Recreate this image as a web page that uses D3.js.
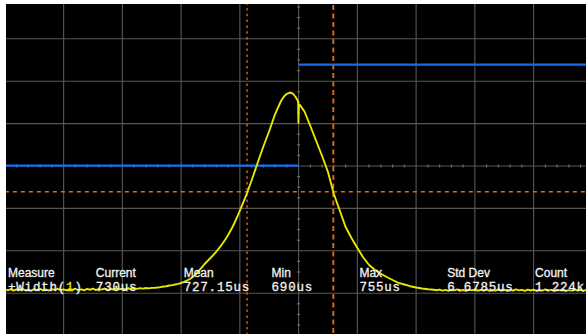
<!DOCTYPE html>
<html>
<head>
<meta charset="utf-8">
<script src="https://cdn.jsdelivr.net/npm/d3@7/dist/d3.min.js"></script>
<style>
  html, body { margin: 0; padding: 0; background: #fff; overflow: hidden; }
  svg { display: block; }
</style>
</head>
<body>
<script>
// Graticule: 10 horizontal x 8 vertical divisions, centred on 0
const xDivisions = d3.range(-5, 6);
const yDivisions = d3.range(-4, 5);

// Channel 1 (yellow) trace, [horizontal div, vertical div]
const ch1Trace = [
  [-4.98,-2.915],[-4.95,-2.932],[-4.9,-2.906],[-4.85,-2.938],[-4.8,-2.911],[-4.75,-2.929],
  [-4.7,-2.897],[-4.65,-2.934],[-4.6,-2.915],[-4.55,-2.941],[-4.5,-2.905],[-4.45,-2.926],
  [-4.4,-2.899],[-4.35,-2.932],[-4.3,-2.912],[-4.25,-2.937],[-4.2,-2.903],[-4.15,-2.921],
  [-4.1,-2.896],[-4.05,-2.929],[-4.0,-2.908],[-3.95,-2.933],[-3.9,-2.901],[-3.85,-2.924],
  [-3.8,-2.895],[-3.75,-2.927],[-3.7,-2.910],[-3.65,-2.931],[-3.6,-2.898],[-3.55,-2.919],
  [-3.5,-2.894],[-3.45,-2.925],[-3.4,-2.903],[-3.35,-2.916],[-3.3,-2.889],[-3.25,-2.921],
  [-3.2,-2.900],[-3.15,-2.913],[-3.1,-2.886],[-3.05,-2.909],[-3.0,-2.895],[-2.95,-2.912],
  [-2.9,-2.884],[-2.85,-2.903],[-2.8,-2.887],[-2.75,-2.899],[-2.7,-2.880],[-2.65,-2.893],
  [-2.6,-2.878],[-2.55,-2.886],[-2.5,-2.874],[-2.45,-2.871],[-2.4,-2.866],[-2.35,-2.858],
  [-2.3,-2.842],[-2.25,-2.835],[-2.2,-2.818],[-2.15,-2.810],[-2.1,-2.795],[-2.05,-2.780],
  [-2.0,-2.759],[-1.95,-2.735],[-1.9,-2.700],[-1.85,-2.665],[-1.8,-2.618],[-1.75,-2.555],
  [-1.7,-2.476],[-1.65,-2.395],[-1.6,-2.311],[-1.55,-2.240],[-1.5,-2.170],[-1.45,-2.095],
  [-1.4,-2.017],[-1.35,-1.930],[-1.3,-1.840],[-1.25,-1.740],[-1.2,-1.627],[-1.15,-1.505],
  [-1.1,-1.368],[-1.05,-1.215],[-1.0,-1.050],[-0.9,-0.719],[-0.8,-0.342],[-0.7,0.064],
  [-0.6,0.460],[-0.5,0.825],[-0.4,1.226],[-0.3,1.533],[-0.25,1.640],[-0.2,1.703],
  [-0.15,1.733],[-0.1,1.710],[-0.05,1.627],[-0.008,1.521],[-0.003,1.014],[0.005,1.450],
  [0.024,1.439],[0.1,1.285],[0.2,0.943],[0.3,0.590],[0.4,0.236],[0.5,-0.142],
  [0.6,-0.660],[0.7,-1.050],[0.8,-1.439],[0.9,-1.698],[1.0,-1.934],[1.1,-2.158],
  [1.2,-2.335],[1.3,-2.453],[1.4,-2.542],[1.5,-2.618],[1.6,-2.689],[1.7,-2.755],
  [1.8,-2.795],[1.9,-2.835],[2.0,-2.866],[2.1,-2.889],[2.2,-2.908],[2.3,-2.920],
  [2.35,-2.931],[2.4,-2.914],[2.45,-2.938],[2.5,-2.921],[2.55,-2.944],[2.6,-2.917],
  [2.65,-2.935],[2.7,-2.909],[2.75,-2.940],[2.8,-2.925],[2.85,-2.947],[2.9,-2.916],
  [2.95,-2.933],[3.0,-2.912],[3.05,-2.942],[3.1,-2.922],[3.15,-2.937],[3.2,-2.910],
  [3.25,-2.945],[3.3,-2.926],[3.35,-2.939],[3.4,-2.913],[3.45,-2.936],[3.5,-2.918],
  [3.55,-2.948],[3.6,-2.924],[3.65,-2.941],[3.7,-2.911],[3.75,-2.934],[3.8,-2.920],
  [3.85,-2.946],[3.9,-2.917],[3.95,-2.936],[4.0,-2.914],[4.05,-2.943],[4.1,-2.923],
  [4.15,-2.938],[4.2,-2.909],[4.25,-2.940],[4.3,-2.921],[4.35,-2.947],[4.4,-2.918],
  [4.45,-2.933],[4.5,-2.912],[4.55,-2.944],[4.6,-2.927],[4.65,-2.939],[4.7,-2.915],
  [4.75,-2.937],[4.8,-2.922],[4.85,-2.948],[4.9,-2.919],[4.95,-2.934],[5.0,-2.921]
];

// Blue trace: two flat levels meeting at the trigger point
const blueStart = [-5, 0];
const blueEnd   = [0, 5];
const blueLevel = [0.008, 2.39];

// Cursor positions (divisions)
const cursorX = [-0.878, 0.591];
const cursorY = [-0.606];

// Measurement readout
const measureLabels = ["Measure", "Current", "Mean", "Min", "Max", "Std Dev", "Count"];
const measureValues = ["+Width(1)", "730us", "727.15us", "690us", "755us", "6.6785us", "1.224k"];

const W = 586, H = 334;
const svg = d3.select("body").append("svg").attr("width", W).attr("height", H);

svg.append("rect").attr("width", W).attr("height", H).attr("fill", "#fff");

const x = d3.scaleLinear().domain([-5, 5]).range([4.85, 592.35]);
const y = d3.scaleLinear().domain([-4, 4]).range([335.6, -3.6]);

const defs = svg.append("defs");
defs.append("clipPath").attr("id", "screen")
  .append("rect").attr("x", 6).attr("y", 4).attr("width", W - 6).attr("height", H - 4);
const soft = defs.append("filter").attr("id", "soft")
  .attr("x", "-5%").attr("y", "-5%").attr("width", "110%").attr("height", "110%");
soft.append("feGaussianBlur").attr("stdDeviation", 0.35);

const screen = svg.append("g").attr("clip-path", "url(#screen)");
screen.append("rect").attr("x", 6).attr("y", 4).attr("width", W - 6).attr("height", H - 4)
  .attr("fill", "#000");

// Grid
const grid = screen.append("g").attr("filter", "url(#soft)");
grid.selectAll("line.gv").data(xDivisions).join("line")
  .attr("class", "gv")
  .attr("x1", d => x(d)).attr("x2", d => x(d))
  .attr("y1", y(4)).attr("y2", y(-4))
  .attr("stroke", "#575757").attr("stroke-width", 1.1);
grid.selectAll("line.gh").data(yDivisions).join("line")
  .attr("class", "gh")
  .attr("y1", d => y(d)).attr("y2", d => y(d))
  .attr("x1", x(-5)).attr("x2", x(5))
  .attr("stroke", "#575757").attr("stroke-width", 1.1);

// Minor ticks on the centre axes
const vTicks = d3.range(-4, 4.01, 0.25).filter(v => Math.abs(v % 1) > 1e-6);
const hTicks = d3.range(-5, 5.01, 0.2).filter(v => Math.abs(Math.round(v) - v) > 1e-6);
grid.selectAll("line.tv").data(vTicks).join("line")
  .attr("class", "tv")
  .attr("x1", x(0) - 1.5).attr("x2", x(0) + 1.5)
  .attr("y1", d => y(d)).attr("y2", d => y(d))
  .attr("stroke", "#6a6a6a").attr("stroke-width", 1.2);
grid.selectAll("line.th").data(hTicks).join("line")
  .attr("class", "th")
  .attr("x1", d => x(d)).attr("x2", d => x(d))
  .attr("y1", y(0) - 1.5).attr("y2", y(0) + 1.5)
  .attr("stroke", "#6a6a6a").attr("stroke-width", 1.2);

// Cursors
const cursors = screen.append("g");
cursors.selectAll("line.cx").data(cursorX).join("line")
  .attr("class", "cx")
  .attr("x1", d => x(d)).attr("x2", d => x(d))
  .attr("y1", y(4)).attr("y2", y(-4))
  .attr("stroke", "#de6a14")
  .attr("stroke-width", (d, i) => i === 0 ? 1.4 : 1.9)
  .attr("stroke-dasharray", (d, i) => i === 0 ? "2.5,3.3" : "5,3.5");
cursors.selectAll("line.cy").data(cursorY).join("line")
  .attr("class", "cy")
  .attr("y1", d => y(d)).attr("y2", d => y(d))
  .attr("x1", x(-5)).attr("x2", x(5))
  .attr("stroke", "#de6a14").attr("stroke-width", 1.4)
  .attr("stroke-dasharray", "4,4");

// Blue trace
screen.append("g").selectAll("line").data(blueLevel).join("line")
  .attr("x1", (d, i) => x(blueStart[i])).attr("x2", (d, i) => x(blueEnd[i]))
  .attr("y1", d => y(d)).attr("y2", d => y(d))
  .attr("stroke", "#1170ea").attr("stroke-width", 2.4);

// Yellow trace
const line = d3.line().x(d => x(d[0])).y(d => y(d[1]));
screen.append("path").datum(ch1Trace)
  .attr("d", line)
  .attr("fill", "none")
  .attr("stroke", "#e8e800")
  .attr("stroke-width", 1.9)
  .attr("stroke-linejoin", "round");

// Measurement readout
const colX = i => 8 + i * 87.85;
const readout = screen.append("g").attr("fill", "#f2f2f2")
  .attr("stroke", "#f2f2f2").attr("stroke-width", 0.3);
readout.selectAll("text.lbl").data(measureLabels).join("text")
  .attr("class", "lbl")
  .attr("x", (d, i) => colX(i)).attr("y", 277)
  .attr("font-family", "'Liberation Sans', Arial, sans-serif")
  .attr("font-size", 12)
  .text(d => d);
readout.selectAll("text.val").data(measureValues).join("text")
  .attr("class", "val")
  .attr("x", (d, i) => colX(i)).attr("y", 290.5)
  .attr("font-family", "'Liberation Mono', 'DejaVu Sans Mono', monospace")
  .attr("font-size", 12.5)
  .attr("letter-spacing", 0.8)
  .each(function (d) {
    const t = d3.select(this);
    const m = d.match(/^(.*\()(\d)(\).*)$/);
    if (m) {
      t.append("tspan").text(m[1]);
      t.append("tspan").attr("fill", "#e8e800").attr("stroke", "#e8e800").text(m[2]);
      t.append("tspan").text(m[3]);
    } else {
      t.text(d);
    }
  });
</script>
</body>
</html>
